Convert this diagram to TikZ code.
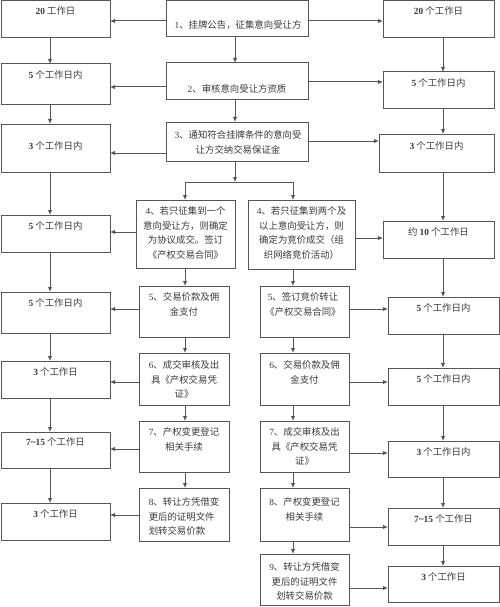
\documentclass[tikz,border=0pt]{standalone}
\usepackage{fontspec}
\setmainfont{Noto Sans CJK SC}
\newfontfamily\lat{Liberation Serif}
\usetikzlibrary{arrows.meta}
\newcommand\nb[1]{{\lat\bfseries #1}}
\newcommand\nr[1]{{\lat #1}}
\definecolor{lc}{HTML}{555555}
\definecolor{tc}{HTML}{3A3A3A}
\newcommand\bx[5]{\node[box, minimum width={#4-#2}, minimum height={#5-#3}, anchor=north west] (#1) at (#2,#3) {};}
\tikzset{
  box/.style={draw=lc, line width=1pt, inner sep=0pt, outer sep=0pt, fill=white},
  tx/.style={inner sep=0pt, anchor=north, text=tc, align=center, font=\fontsize{9.4}{14.5}\selectfont},
  txl/.style={tx, align=left},
  arr/.style={draw=lc, line width=1pt, -{Latex[length=5pt,width=4.5pt]}},
  ln/.style={draw=lc, line width=1pt},
}
\begin{document}
\begin{tikzpicture}[x={(1pt,0)}, y={(0,-1pt)}]
\useasboundingbox (0,0) rectangle (500,607);
% left time boxes
\bx{L1}{1}{0.5}{110}{38}
\bx{L2}{1}{64}{110}{105}
\bx{L3}{1}{124}{110}{172}
\bx{L4}{1}{215}{110}{252}
\bx{L5}{1}{292}{110}{333}
\bx{L6}{1}{361}{110}{398}
\bx{L7}{1}{432}{110}{468}
\bx{L8}{1}{503}{110}{540}
% center boxes
\bx{C1}{166}{0.5}{308}{37}
\bx{C2}{166}{63}{308}{100}
\bx{C3}{166}{122}{308}{161}
\bx{B4L}{136}{200}{235}{268}
\bx{B5L}{139}{286}{229}{337}
\bx{B6L}{139}{353}{229}{405}
\bx{B7L}{139}{421}{229}{472}
\bx{B8L}{139}{488}{229}{541}
\bx{B4R}{248}{200}{355}{269}
\bx{B5R}{260}{286}{349}{337}
\bx{B6R}{260}{353}{349}{405}
\bx{B7R}{260}{421}{349}{472}
\bx{B8R}{260}{488}{349}{541}
\bx{B9R}{260}{554}{349}{605}
% right time boxes
\bx{R1}{383}{0.5}{494}{38}
\bx{R2}{383}{72}{494}{109}
\bx{R3}{379}{134}{494}{172}
\bx{R4}{383}{221}{494}{258}
\bx{R5}{388}{297}{499}{334}
\bx{R6}{388}{368}{499}{405}
\bx{R7}{388}{441}{499}{477}
\bx{R8}{388}{508}{499}{545}
\bx{R9}{388}{566}{499}{602}
% texts: left
\node[tx] (tL1) at (55.5,11-4.6) {\nb{20} 工作日};
\node[tx] (tL2) at (55.5,75-4.6) {\nb{5} 个工作日内};
\node[tx] (tL3) at (55.5,146-4.6) {\nb{3} 个工作日内};
\node[tx] (tL4) at (55.5,226-4.6) {\nb{5} 个工作日内};
\node[tx] (tL5) at (55.5,303-4.6) {\nb{5} 个工作日内};
\node[tx] (tL6) at (55.5,372-4.6) {\nb{3} 个工作日};
\node[tx] (tL7) at (55.5,442-4.6) {\nb{7\textasciitilde15} 个工作日};
\node[tx] (tL8) at (55.5,514-4.6) {\nb{3} 个工作日};
% texts: right
\node[tx] (tR1) at (438.5,11-4.6) {\nb{20} 个工作日};
\node[tx] (tR2) at (438.5,83-4.6) {\nb{5} 个工作日内};
\node[tx] (tR3) at (436.5,146-4.6) {\nb{3} 个工作日内};
\node[tx] (tR4) at (438.5,232-4.6) {约 \nb{10} 个工作日};
\node[tx] (tR5) at (443.5,308-4.6) {\nb{5} 个工作日内};
\node[tx] (tR6) at (443.5,379-4.6) {\nb{5} 个工作日内};
\node[tx] (tR7) at (443.5,452-4.6) {\nb{3} 个工作日内};
\node[tx] (tR8) at (443.5,519-4.6) {\nb{7\textasciitilde15} 个工作日};
\node[tx] (tR9) at (443.5,577-4.6) {\nb{3} 个工作日};
% texts: steps
\node[tx] (tC1) at (238,25-4.6) {\nr{1}、挂牌公告，征集意向受让方};
\node[tx] (tC2) at (237,89-4.6) {\nr{2}、审核意向受让方资质};
\node[tx] (tC3) at (238,135-4.6) {\nr{3}、通知符合挂牌条件的意向受\\让方交纳交易保证金};
\node[tx] (tB4L) at (185.5,211-4.6) {\nr{4}、若只征集到一个\\意向受让方，则确定\\为协议成交。签订\\《产权交易合同》};
\node[tx] (tB5L) at (184,297-4.6) {\nr{5}、交易价款及佣\\金支付};
\node[tx] (tB6L) at (184,365-4.6) {\nr{6}、成交审核及出\\具《产权交易凭\\证》};
\node[tx] (tB7L) at (184,432-4.6) {\nr{7}、产权变更登记\\相关手续};
\node[txl] (tB8L) at (184,502-4.6) {\nr{8}、转让方凭借变\\更后的证明文件\\划转交易价款};
\node[tx] (tB4R) at (301.5,211-4.6) {\nr{4}、若只征集到两个及\\以上意向受让方，则\\确定为竞价成交（组\\织网络竞价活动）};
\node[tx] (tB5R) at (303,297-4.6) {\nr{5}、签订竞价转让\\《产权交易合同》};
\node[tx] (tB6R) at (304.5,365-4.6) {\nr{6}、交易价款及佣\\金支付};
\node[tx] (tB7R) at (304.5,432-4.6) {\nr{7}、成交审核及出\\具《产权交易凭\\证》};
\node[tx] (tB8R) at (304.5,502-4.6) {\nr{8}、产权变更登记\\相关手续};
\node[tx] (tB9R) at (304.5,567-4.6) {\nr{9}、转让方凭借变\\更后的证明文件\\划转交易价款};
% helper coordinates
\coordinate (xL) at (50,0);
\coordinate (xC) at (235,0);
\coordinate (xBL) at (185,0);
\coordinate (xBR) at (293,0);
\coordinate (xR) at (443,0);
\coordinate (brc) at (235,182);
\coordinate (brl) at (185,182);
\coordinate (brr) at (293,182);
\foreach \n/\v in {y21/21,y87/87,y82/82,y153/153,y141/141,y232/232,y238/238,y309/309,y382/382,y449/449,y453/453,y515/515,y527/527,y588/588}
  \coordinate (\n) at (0,\v);
% vertical arrows: left column
\foreach \a/\b in {L1/L2,L2/L3,L3/L4,L4/L5,L5/L6,L6/L7,L7/L8}
  \draw[arr] (\a.south -| xL) -- (\b.north -| xL);
% right column
\foreach \a/\b in {R1/R2,R2/R3,R3/R4,R4/R5,R5/R6,R6/R7,R7/R8,R8/R9}
  \draw[arr] (\a.south -| xR) -- (\b.north -| xR);
% center
\draw[arr] (C1.south -| xC) -- (C2.north -| xC);
\draw[arr] (C2.south -| xC) -- (C3.north -| xC);
\draw[arr] (C3.south -| brc) -- (brc);
\draw[ln] (brl) -- (brr);
\draw[arr] (brl) -- (B4L.north -| brl);
\draw[arr] (brr) -- (B4R.north -| brr);
\foreach \a/\b in {B4L/B5L,B5L/B6L,B6L/B7L,B7L/B8L}
  \draw[arr] (\a.south -| xBL) -- (\b.north -| xBL);
\foreach \a/\b in {B4R/B5R,B5R/B6R,B6R/B7R,B7R/B8R,B8R/B9R}
  \draw[arr] (\a.south -| xBR) -- (\b.north -| xBR);
% horizontal arrows
\draw[arr] (C1.west |- y21) -- (L1.east |- y21);
\draw[arr] (C1.east |- y21) -- (R1.west |- y21);
\draw[arr] (C2.west |- y87) -- (L2.east |- y87);
\draw[arr] (C2.east |- y82) -- (R2.west |- y82);
\draw[arr] (C3.west |- y153) -- (L3.east |- y153);
\draw[arr] (C3.east |- y141) -- (R3.west |- y141);
\draw[arr] (B4L.west |- y232) -- (L4.east |- y232);
\draw[arr] (B4R.east |- y238) -- (R4.west |- y238);
\draw[arr] (B5L.west |- y309) -- (L5.east |- y309);
\draw[arr] (B5R.east |- y309) -- (R5.west |- y309);
\draw[arr] (B6L.west |- y382) -- (L6.east |- y382);
\draw[arr] (B6R.east |- y382) -- (R6.west |- y382);
\draw[arr] (B7L.west |- y449) -- (L7.east |- y449);
\draw[arr] (B7R.east |- y453) -- (R7.west |- y453);
\draw[arr] (B8L.west |- y515) -- (L8.east |- y515);
\draw[arr] (B8R.east |- y527) -- (R8.west |- y527);
\draw[arr] (B9R.east |- y588) -- (R9.west |- y588);
\end{tikzpicture}
\end{document}
